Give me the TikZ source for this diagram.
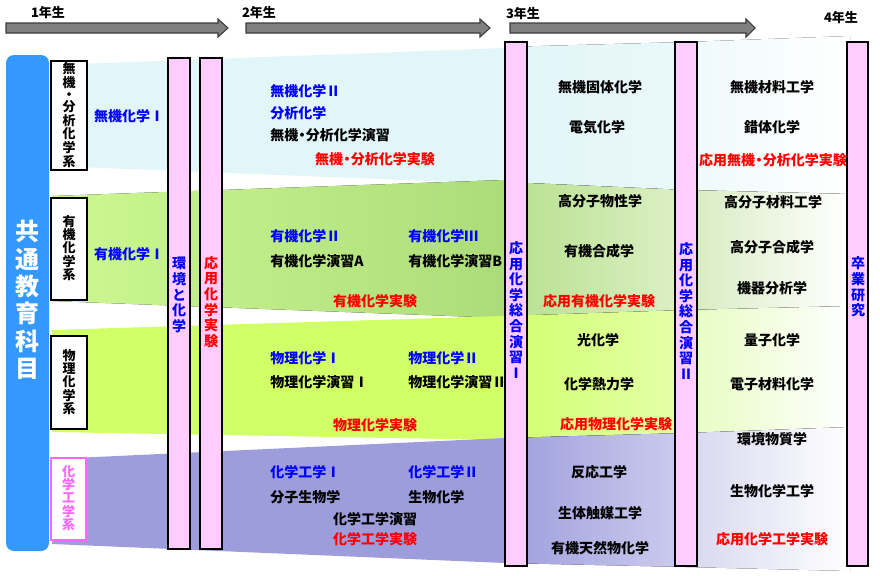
\documentclass[tikz,border=0pt]{standalone}
\usepackage{fontspec}
\setmainfont{Noto Sans CJK JP}
\usepackage{tikz}

\definecolor{arrowgray}{RGB}{128,128,128}
\definecolor{arrowedge}{RGB}{60,60,60}
\definecolor{basicblue}{RGB}{51,153,255}
\definecolor{barpink}{RGB}{255,204,255}
\definecolor{catpink}{RGB}{255,102,255}
\definecolor{reqblue}{RGB}{0,0,255}
\definecolor{labred}{RGB}{255,0,0}
% bands, 1st/2nd year
\definecolor{inorgband}{RGB}{226,245,248}
\definecolor{orgbandL}{RGB}{205,248,145}
\definecolor{orgbandR}{RGB}{172,220,122}
\definecolor{physband}{RGB}{208,255,102}
\definecolor{cheband}{RGB}{157,157,220}
% bands, 3rd year
\definecolor{inorgC}{RGB}{226,245,248}
\definecolor{inorgD}{RGB}{234,248,250}
\definecolor{orgC}{RGB}{182,224,140}
\definecolor{orgD}{RGB}{222,240,200}
\definecolor{physC}{RGB}{210,255,110}
\definecolor{physD}{RGB}{228,255,170}
\definecolor{cheC}{RGB}{158,158,222}
\definecolor{cheD}{RGB}{205,205,238}
% bands, 4th year
\definecolor{inorgE}{RGB}{238,249,251}
\definecolor{orgE}{RGB}{215,235,192}
\definecolor{physE}{RGB}{230,252,192}
\definecolor{cheE}{RGB}{215,215,240}

\newcommand{\nakaguro}{\makebox[0.55em]{・}}

\begin{document}
\begin{tikzpicture}[x=0.75pt, y=-0.75pt,
    every node/.style={font=\bfseries\fontsize{10.5}{12}\selectfont, inner sep=0pt},
    subj/.style={text=black},
    req/.style={text=reqblue},
    lab/.style={text=labred},
    vtext/.style={align=center, font=\bfseries\fontsize{10.5}{11.7}\selectfont},
    cattext/.style={align=center, font=\bfseries\fontsize{9.75}{10}\selectfont},
    yearlabel/.style={font=\bfseries\fontsize{9.75}{12}\selectfont},
    yeararrow/.style={fill=arrowgray, draw=arrowedge, line width=0.8pt},
    bar/.style={fill=barpink, draw=black, line width=0.9pt},
    catbox/.style={fill=white, draw=black, line width=0.9pt}]
  \useasboundingbox (0,0) rectangle (880,575);

  % year arrows
  \foreach \xa/\xb/\xc in {6/218/228, 246/480/490, 510/746/755}
    \draw[yeararrow] (\xa,23) -- (\xb,23) -- (\xb,19) -- (\xc,28)
      -- (\xb,37) -- (\xb,33) -- (\xa,33) -- cycle;
  \node[yearlabel] (y1) at (48,13) {1年生};
  \node[yearlabel] (y2) at (259,13) {2年生};
  \node[yearlabel] (y3) at (523,14) {3年生};
  \node[yearlabel] (y4) at (841,18) {4年生};

  % bands
  \fill[inorgband] (52,65) -- (505,48) -- (505,184) -- (52,166) -- cycle;
  \fill[left color=orgbandL, right color=orgbandR]
    (52,196) -- (505,180) -- (505,318) -- (52,301) -- cycle;
  \fill[physband] (52,330) -- (505,316) -- (505,440) -- (52,432) -- cycle;
  \fill[cheband] (52,459) -- (505,438) -- (505,563) -- (52,544) -- cycle;

  \fill[left color=inorgC, right color=inorgD]
    (505,47) -- (686,42) -- (686,190) -- (505,182) -- cycle;
  \fill[left color=orgC, right color=orgD]
    (505,182) -- (686,190) -- (686,310) -- (505,316) -- cycle;
  \fill[left color=physC, right color=physD]
    (505,316) -- (686,310) -- (686,433) -- (505,438) -- cycle;
  \fill[left color=cheC, right color=cheD]
    (505,438) -- (686,433) -- (686,567) -- (505,563) -- cycle;

  \fill[left color=inorgE, right color=white]
    (686,42) -- (850,36) -- (850,194) -- (686,190) -- cycle;
  \fill[left color=orgE, right color=white]
    (686,190) -- (850,194) -- (850,306) -- (686,310) -- cycle;
  \fill[left color=physE, right color=white]
    (686,310) -- (850,306) -- (850,427) -- (686,433) -- cycle;
  \fill[left color=cheE, right color=white]
    (686,433) -- (850,427) -- (850,571) -- (686,567) -- cycle;

  % common subjects
  \fill[basicblue, rounded corners=6pt] (6,55) rectangle (49,551);
  \node[font=\bfseries\fontsize{18}{20.6}\selectfont, text=white, align=center]
    (basic) at (27.5,300) {共\\通\\教\\育\\科\\目};

  % course groups
  \draw[catbox] (51,61) rectangle (87,170);
  \draw[catbox] (51,198) rectangle (87,300);
  \draw[catbox] (51,336) rectangle (87,429);
  \draw[catbox, draw=catpink] (51,458) rectangle (86,540);
  \node[cattext, font=\bfseries\fontsize{9.75}{9}\selectfont]
    (inorg) at (69,115) {無\\機\\・\\分\\析\\化\\学\\系};
  \node[cattext] (org) at (69,248) {有\\機\\化\\学\\系};
  \node[cattext] (phys) at (69,382) {物\\理\\化\\学\\系};
  \node[cattext, text=catpink] (cheng) at (68.5,498) {化\\学\\工\\学\\系};

  % vertical bars
  \foreach \xa/\xb/\ya/\yb in {168/190/58/549, 200/222/58/549,
      505/527/42/566, 675/697/42/566, 847/868/42/566}
    \draw[bar] (\xa,\ya) rectangle (\xb,\yb);
  \node[vtext, text=reqblue] (env) at (179,295) {環\\境\\と\\化\\学};
  \node[vtext, text=labred] (applab) at (211,302) {応\\用\\化\\学\\実\\験};
  \node[vtext, text=reqblue] (sem1) at (516,310) {応\\用\\化\\学\\総\\合\\演\\習\\Ⅰ};
  \node[vtext, text=reqblue] (sem2) at (686,311) {応\\用\\化\\学\\総\\合\\演\\習\\Ⅱ};
  \node[vtext, text=reqblue] (thesis) at (858,287) {卒\\業\\研\\究};

  % 1st year
  \node[req] (ic1) at (129,116) {無機化学Ⅰ};
  \node[req] (oc1) at (129,254) {有機化学Ⅰ};

  % 2nd year
  \node[req, anchor=west] (ic2) at (270,91) {無機化学Ⅱ};
  \node[req, anchor=west] (ac) at (270,113) {分析化学};
  \node[subj, anchor=west] (icex) at (270,135) {無機\nakaguro 分析化学演習};
  \node[lab] (iclab) at (375,159) {無機\nakaguro 分析化学実験};
  \node[req, anchor=west] (oc2) at (270,236) {有機化学Ⅱ};
  \node[req, anchor=west] (oc3) at (408,236) {有機化学Ⅲ};
  \node[subj, anchor=west] (ocexa) at (270,261) {有機化学演習A};
  \node[subj, anchor=west] (ocexb) at (408,261) {有機化学演習B};
  \node[lab] (oclab) at (375,301) {有機化学実験};
  \node[req, anchor=west] (pc1) at (270,358) {物理化学Ⅰ};
  \node[req, anchor=west] (pc2) at (408,358) {物理化学Ⅱ};
  \node[subj, anchor=west] (pcex1) at (270,382) {物理化学演習Ⅰ};
  \node[subj, anchor=west] (pcex2) at (408,382) {物理化学演習Ⅱ};
  \node[lab] (pclab) at (375,425) {物理化学実験};
  \node[req, anchor=west] (ce1) at (270,472) {化学工学Ⅰ};
  \node[req, anchor=west] (ce2) at (408,472) {化学工学Ⅱ};
  \node[subj, anchor=west] (molbio) at (270,497) {分子生物学};
  \node[subj, anchor=west] (biochem) at (408,497) {生物化学};
  \node[subj] (ceex) at (375,519) {化学工学演習};
  \node[lab] (celab) at (375,539) {化学工学実験};

  % 3rd year
  \node[subj] (solid) at (600,87) {無機固体化学};
  \node[subj] (electro) at (597,127) {電気化学};
  \node[subj] (polyphys) at (600,201) {高分子物性学};
  \node[subj] (orgsyn) at (599,251) {有機合成学};
  \node[lab] (aoclab) at (599,301) {応用有機化学実験};
  \node[subj] (photo) at (598,340) {光化学};
  \node[subj] (thermo) at (599,384) {化学熱力学};
  \node[lab] (apclab) at (616,424) {応用物理化学実験};
  \node[subj] (react) at (599,472) {反応工学};
  \node[subj] (biocat) at (600,513) {生体触媒工学};
  \node[subj] (natprod) at (600,548) {有機天然物化学};

  % 4th year
  \node[subj] (inmat) at (772,87) {無機材料工学};
  \node[subj] (complex) at (772,127) {錯体化学};
  \node[lab] (aiclab) at (773,160) {応用無機\nakaguro 分析化学実験};
  \node[subj] (polymat) at (773,202) {高分子材料工学};
  \node[subj] (polysyn) at (772,247) {高分子合成学};
  \node[subj] (instr) at (772,288) {機器分析学};
  \node[subj] (quantum) at (772,340) {量子化学};
  \node[subj] (elmat) at (772,384) {電子材料化学};
  \node[subj] (envmat) at (772,439) {環境物質学};
  \node[subj] (bioeng) at (772,491) {生物化学工学};
  \node[lab] (acelab) at (772,539) {応用化学工学実験};
\end{tikzpicture}
\end{document}
